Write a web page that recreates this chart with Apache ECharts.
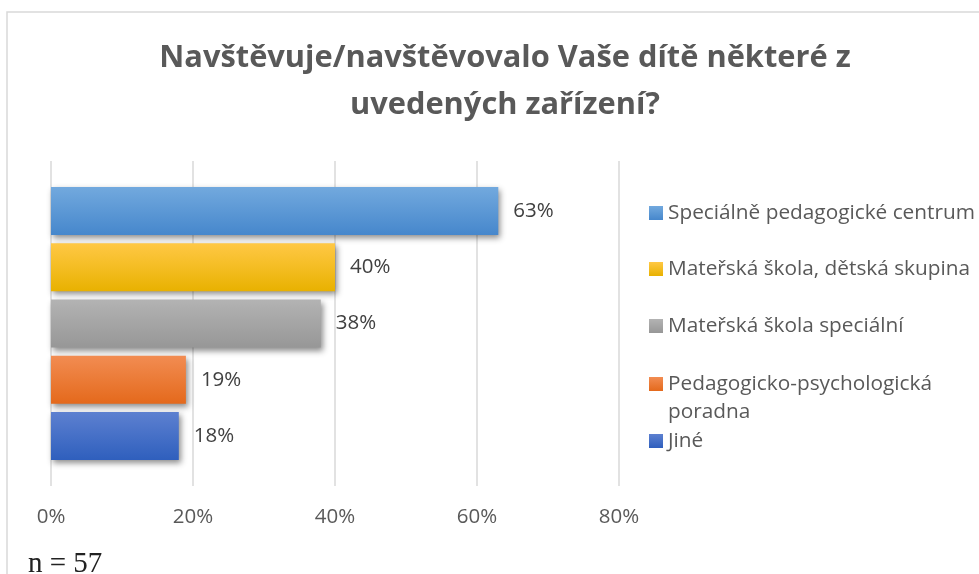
<!DOCTYPE html>
<html>
<head>
<meta charset="utf-8">
<script src="https://cdn.jsdelivr.net/npm/echarts@6/dist/echarts.min.js"></script>
<style>
html,body{margin:0;padding:0;background:#fff;}
#chart{width:979px;height:574px;}
</style>
</head>
<body>
<div id="chart"></div>
<script>
// ---- data ----
var titleLines = ['Navštěvuje/navštěvovalo Vaše dítě některé z', 'uvedených zařízení?'];
var categories = ['Speciálně pedagogické centrum', 'Mateřská škola, dětská skupina', 'Mateřská škola speciální', 'Pedagogicko-psychologická poradna', 'Jiné'];
var legendLabels = ['Speciálně pedagogické centrum', 'Mateřská škola, dětská skupina', 'Mateřská škola speciální', ' \nPedagogicko-psychologická\nporadna', 'Jiné'];
var values = [63, 40, 38, 19, 18];
var axisTicks = [0, 20, 40, 60, 80];
var sampleNote = 'n = 57';

// ---- styles ----
var gradients = [
  ['#72a9de', '#4687cc'],
  ['#ffc845', '#e8b100'],
  ['#b3b3b3', '#979797'],
  ['#f28c52', '#e4691c'],
  ['#5d80d0', '#2f5fbd']
];
var legendCenters = [213, 269, 326, 384, 441];
var font = '"Open Sans", Lato, "Noto Sans", sans-serif';

function grad(c) {
  return new echarts.graphic.LinearGradient(0, 0, 0, 1, [
    {offset: 0, color: c[0]}, {offset: 0.5, color: echarts.color.lerp(0.5, c)}, {offset: 1, color: c[1]}
  ]);
}

var chart = echarts.init(document.getElementById('chart'), null, {renderer: 'canvas'});

var series = categories.map(function (name, i) {
  var d = categories.map(function (_, j) { return j === i ? values[i] : '-'; });
  return {
    name: name,
    type: 'bar',
    xAxisIndex: 1,
    yAxisIndex: 1,
    barWidth: 48,
    barGap: '-100%',
    data: d,
    itemStyle: {
      color: grad(gradients[i]),
      shadowColor: 'rgba(0,0,0,0.45)',
      shadowBlur: 6,
      shadowOffsetX: 2,
      shadowOffsetY: 3
    },
    label: {
      show: true,
      position: 'right',
      distance: 15,
      formatter: '{c}%',
      fontFamily: font,
      fontSize: 20.5,
      color: '#404040'
    },
    emphasis: {disabled: true}
  };
});

var legends = categories.map(function (name, i) {
  var multi = legendLabels[i].indexOf('\n') >= 0;
  return {
    data: [name],
    orient: 'vertical',
    left: 649,
    top: legendCenters[i] - (multi ? 42 : 14),
    padding: 0,
    icon: 'rect',
    itemWidth: 14,
    itemHeight: 14,
    selectedMode: false,
    formatter: function () { return legendLabels[i]; },
    textStyle: {
      fontFamily: font,
      fontSize: 20.8,
      color: '#595959',
      lineHeight: 28
    }
  };
});

var option = {
  animation: false,
  title: {
    text: titleLines.join('\n'),
    left: 500,
    top: 30,
    textAlign: 'center',
    textStyle: {
      fontFamily: font,
      fontWeight: 'bold',
      fontSize: 30.8,
      lineHeight: 47,
      color: '#595959'
    }
  },
  legend: legends,
  grid: [
    {left: 51, top: 161, width: 568, height: 325},
    {left: 51, top: 183, width: 568, height: 281}
  ],
  xAxis: [
    {
      gridIndex: 0, type: 'value', min: axisTicks[0], max: axisTicks[axisTicks.length - 1], interval: 20,
      axisLine: {show: false}, axisTick: {show: false},
      splitLine: {lineStyle: {color: '#d9d9d9', width: 1.5}},
      axisLabel: {formatter: '{value}%', fontFamily: font, fontSize: 20.5, color: '#595959', margin: 21}
    },
    {
      gridIndex: 1, type: 'value', min: axisTicks[0], max: axisTicks[axisTicks.length - 1],
      show: false
    }
  ],
  yAxis: [
    {gridIndex: 0, type: 'category', data: categories, show: false},
    {gridIndex: 1, type: 'category', data: categories, inverse: true, show: false}
  ],
  graphic: [
    {
      type: 'rect', silent: true, z: -1,
      shape: {x: 7, y: 12, width: 1000, height: 620},
      style: {fill: 'none', stroke: '#d9d9d9', lineWidth: 1.5}
    },
    {
      type: 'text', left: 28, top: 550,
      style: {text: sampleNote, font: '29px "Liberation Serif", "DejaVu Serif", serif', fill: '#222'}
    }
  ],
  series: series
};

chart.setOption(option);
</script>
</body>
</html>
